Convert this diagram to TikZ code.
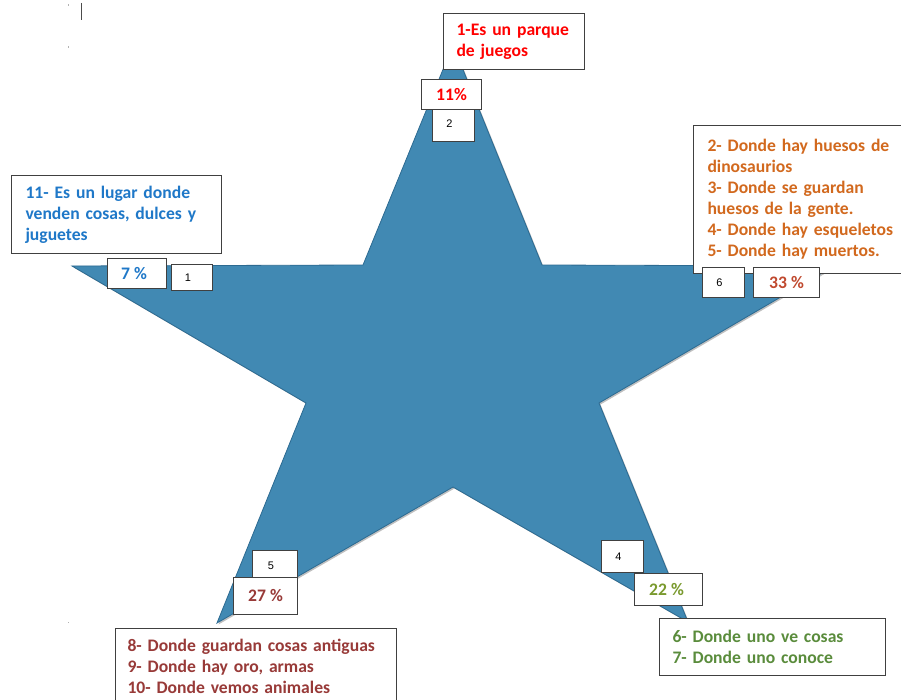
\documentclass[tikz,border=0pt]{standalone}
\usepackage{fontspec}
\setmainfont{Carlito}
\newfontfamily\numfont{Liberation Sans}
\definecolor{starfill}{HTML}{4189B3}
\definecolor{staredge}{HTML}{2C6A91}
\definecolor{tred}{HTML}{FF0000}
\definecolor{torange}{HTML}{D2691E}
\definecolor{tthree}{HTML}{C0492E}
\definecolor{tblue}{HTML}{1F78C8}
\definecolor{tdred}{HTML}{983A38}
\definecolor{tolive}{HTML}{7A9A2E}
\definecolor{tgreen}{HTML}{5A8C3C}
\definecolor{boxline}{HTML}{404040}
\tikzset{
  box/.style={draw=boxline, fill=white, line width=1pt, anchor=north west, inner ysep=0pt},
  txt/.style={box, font=\bfseries\fontsize{17.6}{21}\selectfont, align=left},
  pct/.style={box, inner xsep=0pt, font=\bfseries\fontsize{17.6}{20}\selectfont},
  num/.style={box, inner xsep=0pt, font=\numfont\fontsize{11}{13}\selectfont},
}
\begin{document}
\begin{tikzpicture}[x=1pt,y=-1pt]
\useasboundingbox (0,0) rectangle (901,700);
\clip (0,0) rectangle (901,700);
% star shadow and star
\fill[black, opacity=0.25, shift={(1.5,1.5)}] (453,45) -- (542,265) -- (834,266) -- (599,403) -- (688,622) -- (453,487) -- (217,623) -- (306,403) -- (72,266) -- (363,265) -- cycle;
\path[fill=starfill, draw=staredge, line width=0.8pt] (453,45) -- (542,265) -- (834,266) -- (599,403) -- (688,622) -- (453,487) -- (217,623) -- (306,403) -- (72,266) -- (363,265) -- cycle;
% stray marks top left
\draw[black!70, line width=1.2pt] (81.5,3) -- (81.5,20);
\fill[black!30] (67.5,4.5) rectangle (69,6);
\fill[black!30] (67.5,46.5) rectangle (69,48);
\fill[black!30] (67.5,621.5) rectangle (69,623);
% top
\node[txt, text=tred, minimum width=141pt, minimum height=56pt, inner xsep=13pt, text width=115pt] (b1) at (443,13) {1-Es un parque\\de juegos};
\node[num, minimum width=42pt, minimum height=36pt] (n2) at (432,105) {2\kern8pt};
\node[pct, text=tred, minimum width=60pt, minimum height=30pt] (p11) at (421,79) {11\%};
% right
\node[txt, text=torange, minimum width=220pt, minimum height=148pt, inner xsep=14pt, text width=192pt] (b2) at (693,125) {2- Donde hay huesos de\\dinosaurios\\3- Donde se guardan\\huesos de la gente.\\4- Donde hay esqueletos\\5- Donde hay muertos.};
\node[num, minimum width=42pt, minimum height=30pt] (n6) at (702,267) {6\kern8pt};
\node[pct, text=tthree, minimum width=66pt, minimum height=30pt] (p33) at (753,267) {33 \%};
% left
\node[txt, text=tblue, minimum width=210pt, minimum height=78pt, inner xsep=14pt, text width=182pt] (b11) at (11,175) {11- Es un lugar donde\\venden cosas, dulces y\\juguetes};
\node[pct, text=tblue, minimum width=59pt, minimum height=30pt] (p7) at (107,258) {7 \%\kern6pt};
\node[num, minimum width=41pt, minimum height=26pt] (n1) at (171,264) {1\kern8pt};
% bottom left
\node[num, minimum width=45pt, minimum height=30pt] (n5) at (252,550) {5\kern8pt};
\node[pct, text=tdred, minimum width=64pt, minimum height=37pt] (p27) at (233,577) {27 \%};
\node[txt, text=tdred, minimum width=281pt, minimum height=76pt, inner xsep=12pt, text width=257pt] (b8) at (115,628) {8- Donde guardan cosas antiguas\\9- Donde hay oro, armas\\10- Donde vemos animales};
% bottom right
\node[num, minimum width=42pt, minimum height=32pt] (n4) at (601,540) {4\kern8pt};
\node[pct, text=tolive, minimum width=68pt, minimum height=32pt] (p22) at (634,573) {22 \%\kern4pt};
\node[txt, text=tgreen, minimum width=226pt, minimum height=57pt, inner xsep=13pt, text width=200pt] (b6) at (659,618) {6- Donde uno ve cosas\\7- Donde uno conoce};
\end{tikzpicture}
\end{document}
